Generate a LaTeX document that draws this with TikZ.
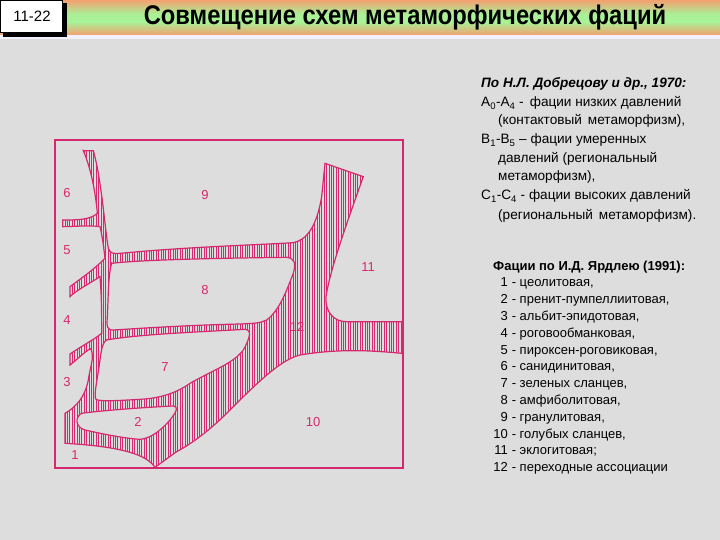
\documentclass[tikz,border=0pt]{standalone}
\usepackage{fontspec}
\setmainfont{Liberation Sans}
\usetikzlibrary{patterns.meta}
\definecolor{bg}{RGB}{221,221,221}
\definecolor{pk}{RGB}{214,40,110}
\definecolor{org}{RGB}{244,160,112}
\definecolor{grn}{RGB}{170,240,150}
\begin{document}
\begin{tikzpicture}[x=1pt,y=-1pt,
  lab/.style={text=pk,font=\fontsize{13}{13}\selectfont},
  rt/.style={anchor=base west,inner sep=0pt,font=\fontsize{13.6}{13.6}\selectfont},
  rt2/.style={anchor=base west,inner sep=0pt,font=\fontsize{13}{13}\selectfont},
  num/.style={anchor=base east,inner sep=0pt,font=\fontsize{13}{13}\selectfont},
  band/.style={draw=pk,line width=1.2pt,pattern={Lines[angle=90,distance=2.4pt,line width=0.6pt]},pattern color=pk},
  isl/.style={draw=pk,line width=1.2pt,fill=bg}]
\useasboundingbox (0,0) rectangle (720,540);
\fill[bg] (0,0) rectangle (720,540);
% header
\shade[top color=org,bottom color=grn,shading angle=0] (0,0) rectangle (720,14);
\fill[grn] (0,14) rectangle (720,22);
\shade[top color=grn,bottom color=org] (0,22) rectangle (720,35);
\fill[white!85!blue!40] (0,35) rectangle (720,39);
\fill[black] (3,3) rectangle (67,37);
\node[draw=black,fill=white,minimum width=62pt,minimum height=32pt,inner sep=0pt,anchor=north west] (num) at (0,0) {};
\node[font=\fontsize{15}{15}\selectfont] (numt) at (32,16) {11-22};
\node[font=\bfseries\fontsize{27}{27}\selectfont,xscale=0.88] (title) at (405,17) {Совмещение схем метаморфических фаций};
% diagram
\draw[pk,line width=1.5pt] (55,140) rectangle (403,468);
\begin{scope}[shift={(40,130)},scale=1/3]
\path[band] (130,62) -- (160,62) .. controls (185,150) and (195,300) .. (205,355)
 .. controls (210,370) and (220,372) .. (240,370)
 .. controls (450,350) and (650,345) .. (760,338)
 .. controls (800,330) and (830,290) .. (845,200) -- (855,100) -- (970,140)
 .. controls (920,280) and (870,420) .. (858,500)
 .. controls (855,545) and (880,575) .. (920,575) -- (1085,575) -- (1085,670)
 .. controls (1000,662) and (900,655) .. (780,675)
 .. controls (720,690) and (650,760) .. (560,850)
 .. controls (500,910) and (440,950) .. (410,965)
 -- (345,1012) .. controls (320,975) and (250,950) .. (75,940) -- (75,850)
 .. controls (110,830) and (135,800) .. (145,750)
 .. controls (150,710) and (165,680) .. (152,656)
 .. controls (140,660) and (110,690) .. (90,705) -- (90,672)
 .. controls (130,645) and (160,630) .. (185,610)
 .. controls (185,560) and (185,500) .. (180,440)
 .. controls (150,460) and (110,480) .. (90,500) -- (90,470)
 .. controls (130,440) and (160,420) .. (195,385)
 .. controls (190,340) and (185,310) .. (180,290)
 .. controls (150,285) and (100,290) .. (68,290) -- (68,270)
 .. controls (110,270) and (150,270) .. (172,250)
 .. controls (168,200) and (155,120) .. cycle;
\path[isl] (215,400) .. controls (300,390) and (500,385) .. (740,382)
 .. controls (765,385) and (768,400) .. (760,430)
 .. controls (740,480) and (720,540) .. (680,570)
 .. controls (660,580) and (640,580) .. (600,582)
 .. controls (450,585) and (300,595) .. (220,600)
 .. controls (200,600) and (200,590) .. (202,560)
 .. controls (205,500) and (205,430) .. cycle;
\path[isl] (200,630) .. controls (300,612) and (500,605) .. (615,598)
 .. controls (635,600) and (632,620) .. (610,660)
 .. controls (580,700) and (520,720) .. (450,760)
 .. controls (400,795) and (350,805) .. (300,808)
 .. controls (230,812) and (180,815) .. (168,808)
 .. controls (160,800) and (172,750) .. (180,690)
 .. controls (185,650) and (190,635) .. cycle;
\path[isl] (125,850) .. controls (200,840) and (320,832) .. (400,828)
 .. controls (415,830) and (412,842) .. (390,870)
 .. controls (360,905) and (330,925) .. (300,928)
 .. controls (250,925) and (180,910) .. (135,900)
 .. controls (105,892) and (105,860) .. cycle;
\end{scope}
\node[lab] (l6) at (67,193) {6};
\node[lab] (l9) at (205,195) {9};
\node[lab] (l5) at (67,250) {5};
\node[lab] (l11) at (368,267) {11};
\node[lab] (l8) at (205,290) {8};
\node[lab] (l4) at (67,320) {4};
\node[lab] (l12) at (297,327) {12};
\node[lab] (l7) at (165,367) {7};
\node[lab] (l3) at (67,382) {3};
\node[lab] (l2) at (138,422) {2};
\node[lab] (l10) at (313,422) {10};
\node[lab] (l1) at (75,455) {1};
% right text
\node[rt,font=\bfseries\itshape\fontsize{13.6}{13.6}\selectfont] (t1) at (481,88) {По Н.Л. Добрецову и др., 1970:};
\node[rt] (t2) at (481,107) {A\textsubscript{0}-A\textsubscript{4} -\, фации низких давлений};
\node[rt] (t3) at (498,125) {(контактовый\, метаморфизм),};
\node[rt] (t4) at (481,144) {B\textsubscript{1}-B\textsubscript{5} – фации умеренных};
\node[rt] (t5) at (498,163) {давлений (региональный};
\node[rt] (t6) at (498,181) {метаморфизм),};
\node[rt] (t7) at (481,200) {C\textsubscript{1}-C\textsubscript{4} - фации высоких давлений};
\node[rt] (t8) at (498,219) {(региональный\, метаморфизм).};
\node[rt2,font=\bfseries\fontsize{13}{13}\selectfont] (f0) at (493,270) {Фации по И.Д. Ярдлею (1991):};
\foreach \n/\t [count=\i] in {1/цеолитовая,2/пренит-пумпеллиитовая,3/альбит-эпидотовая,4/роговообманковая,5/пироксен-роговиковая,6/санидинитовая,7/зеленых сланцев,8/амфиболитовая,9/гранулитовая,10/голубых сланцев,11/эклогитовая;,12/переходные ассоциации}{
  \node[num] (n\i) at (508,270+16.8*\i) {\n};
  \node[rt2] (d\i) at (508,270+16.8*\i) {~-~\t\ifnum\i<11 ,\fi};
}
\end{tikzpicture}
\end{document}
